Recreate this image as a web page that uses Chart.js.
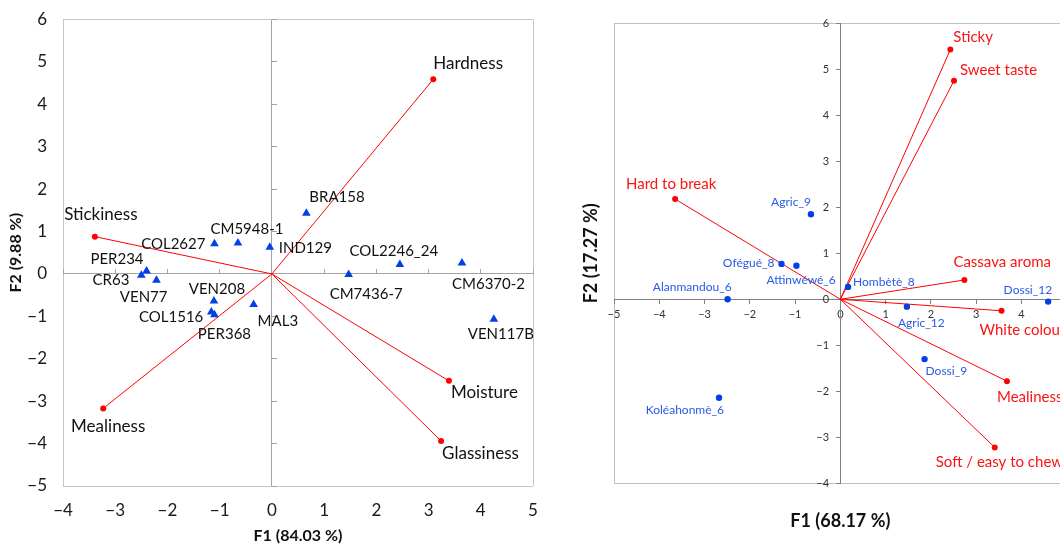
<!DOCTYPE html>
<html>
<head>
<meta charset="utf-8">
<script src="https://cdn.jsdelivr.net/npm/chart.js@4.4.1/dist/chart.umd.min.js"></script>
<style>
html, body { margin:0; padding:0; background:#fff; overflow:hidden; width:1060px; height:545px; }
#left { position:absolute; left:0; top:0; width:560px; height:545px; }
#right { position:absolute; left:580px; top:0; width:500px; height:545px; }
</style>
</head>
<body>
<div id="left"><canvas id="pcaLeft"></canvas></div>
<div id="right"><canvas id="pcaRight"></canvas></div>
<script>
// left biplot : cultivars (triangles) + attribute vectors
const cultivars = ['BRA158','CM5948-1','COL2627','IND129','COL2246_24','CM6370-2','CM7436-7','VEN117B','PER234','CR63','VEN77','VEN208','COL1516','PER368','MAL3'];
const cultivarF1 = [0.66,-0.65,-1.10,-0.04,2.45,3.64,1.47,4.25,-2.40,-2.50,-2.21,-1.11,-1.16,-1.10,-0.35];
const cultivarF2 = [1.43,0.73,0.71,0.63,0.22,0.26,-0.01,-1.07,0.07,-0.03,-0.15,-0.64,-0.90,-0.96,-0.72];
const attributes = ['Hardness','Stickiness','Mealiness','Moisture','Glassiness'];
const attrF1 = [3.09,-3.39,-3.23,3.39,3.24];
const attrF2 = [4.59,0.88,-3.17,-2.52,-3.94];
const leftXTicks = [-4,-3,-2,-1,0,1,2,3,4,5];
const leftYTicks = [-5,-4,-3,-2,-1,0,1,2,3,4,5,6];

// right biplot : samples (dots) + sensory vectors
const samples = ['Agric_9','Ofégué_8','Attinwéwé_6','Hombètè_8','Alanmandou_6','Koléahonmè_6','Agric_12','Dossi_9','Dossi_12'];
const sampleF1 = [-0.65,-1.30,-0.97,0.17,-2.49,-2.68,1.47,1.86,4.59];
const sampleF2 = [1.85,0.77,0.73,0.27,0.00,-2.14,-0.16,-1.30,-0.05];
const sensory = ['Sticky','Sweet taste','Hard to break','Cassava aroma','White colour','Mealiness','Soft / easy to chew'];
const sensF1 = [2.43,2.51,-3.65,2.74,3.56,3.68,3.41];
const sensF2 = [5.43,4.75,2.18,0.42,-0.25,-1.78,-3.22];
const rightXTicks = [-5,-4,-3,-2,-1,0,1,2,3,4,5];
const rightYTicks = [-4,-3,-2,-1,0,1,2,3,4,5,6];

// label placement (dx, dy, align) relative to the mark
const leftPlace = {
  'Hardness':[0,-16,'left'], 'Stickiness':[6,-22,'center'], 'Mealiness':[5,18,'center'],
  'Moisture':[2,12,'left'], 'Glassiness':[1,12,'left'],
  'BRA158':[3,-16,'left'], 'CM5948-1':[9,-14,'center'], 'COL2627':[-9,0,'right'],
  'IND129':[9,1,'left'], 'COL2246_24':[-6,-13,'center'], 'CM6370-2':[-10,21,'left'],
  'CM7436-7':[-19,20,'left'], 'VEN117B':[7,15,'center'], 'PER234':[-3,-12,'right'],
  'CR63':[-12,5,'right'], 'VEN77':[11,17,'right'], 'VEN208':[3,-12,'center'],
  'COL1516':[-8,5,'right'], 'PER368':[10,19,'center'], 'MAL3':[4,17,'left']
};
const rightPlace = {
  'Sticky':[3,-12,'left'], 'Sweet taste':[6,-11,'left'], 'Hard to break':[-4,-15,'center'],
  'Cassava aroma':[-11,-18,'left'], 'White colour':[-22,19,'left'], 'Mealiness':[-10,16,'left'],
  'Soft / easy to chew':[-59,15,'left'],
  'Agric_9':[0,-12,'right'], 'Ofégué_8':[-7,-1,'right'], 'Attinwéwé_6':[-30,14,'left'],
  'Hombètè_8':[5,-5,'left'], 'Alanmandou_6':[4,-12,'right'], 'Koléahonmè_6':[5,12,'right'],
  'Agric_12':[-9,16,'left'], 'Dossi_9':[1,12,'left'], 'Dossi_12':[4,-11,'right']
};

const RED = 'rgb(255,0,0)';
const BLUE = 'rgb(0,64,230)';
const minus = v => String(v).replace('-', '\u2212');
// y labels on a centred axis sit flush against the line, pad them on the right
const minusPadded = v => minus(v) + '    ';

const pointLabels = {
  id: 'pointLabels',
  afterDatasetsDraw(chart, args, opts) {
    const ctx = chart.ctx;
    ctx.save();
    chart.data.datasets.forEach((ds, i) => {
      if (!ds.names) return;
      const meta = chart.getDatasetMeta(i);
      meta.data.forEach((pt, j) => {
        const name = ds.names[j];
        if (!name) return;
        const p = opts.place[name] || [0, -12, 'center'];
        ctx.font = ds.nameFont;
        ctx.fillStyle = ds.nameColor;
        ctx.textAlign = p[2];
        ctx.textBaseline = 'middle';
        ctx.fillText(name, pt.x + p[0], pt.y + p[1]);
      });
    });
    ctx.restore();
  }
};

function vectorSets(names, xs, ys, font, color) {
  return names.map((n, i) => ({
    data: [{x:0, y:0}, {x:xs[i], y:ys[i]}],
    names: [null, n], nameFont: font, nameColor: color,
    showLine: true, borderColor: RED, borderWidth: 1,
    pointRadius: [0, 3], pointBackgroundColor: RED, pointBorderWidth: 0,
    xAxisID: 'x', yAxisID: 'y'
  }));
}

function pts(xs, ys) { return xs.map((x, i) => ({x: x, y: ys[i]})); }

// fixed axis box, no extra label overflow padding
function fixBox(w, h) {
  return s => {
    if (w != null) s.width = w;
    if (h != null) s.height = h;
    s.paddingTop = 0; s.paddingBottom = 0; s.paddingLeft = 0; s.paddingRight = 0;
  };
}

// ---------- left chart ----------
const frameL = '#c6c6c6', zeroL = '#a3a3a3';
function gridLeft(ticks) {
  return c => {
    const v = c.tick.value;
    if (v === ticks[0] || v === ticks[ticks.length - 1]) return frameL;
    if (v === 0) return zeroL;
    return 'rgba(0,0,0,0)';
  };
}
const tickFontL = {family:'Lato', size:17};
const titleFontL = {family:'Lato', size:16, weight:'bold'};

new Chart(document.getElementById('pcaLeft'), {
  type: 'scatter',
  data: {
    datasets: [{
      data: pts(cultivarF1, cultivarF2),
      names: cultivars, nameFont: '15px Lato', nameColor: '#111',
      pointStyle: 'triangle', pointRadius: 5, pointBackgroundColor: BLUE, pointBorderWidth: 0,
      xAxisID: 'x', yAxisID: 'y'
    }].concat(vectorSets(attributes, attrF1, attrF2, '17px Lato', '#111'))
  },
  options: {
    responsive: true, maintainAspectRatio: false, animation: false,
    layout: { autoPadding: false, padding: {top: 19.5, right: 27, left: 0, bottom: 0} },
    plugins: { legend: {display:false}, tooltip: {enabled:false}, pointLabels: {place: leftPlace} },
    scales: {
      x: {
        type: 'linear', min: leftXTicks[0], max: leftXTicks[leftXTicks.length - 1],
        ticks: {stepSize: 1, font: tickFontL, color: '#1a1a1a', padding: 14, callback: minus},
        grid: {color: gridLeft(leftXTicks), drawTicks: false},
        border: {display: false},
        title: {display: true, text: 'F1 (84.03 %)', font: titleFontL, color: '#111', padding: {top: 0, bottom: 0}},
        afterFit: fixBox(null, 59)
      },
      y: {
        type: 'linear', min: leftYTicks[0], max: leftYTicks[leftYTicks.length - 1],
        ticks: {stepSize: 1, font: tickFontL, color: '#1a1a1a', padding: 16, callback: minus},
        grid: {color: gridLeft(leftYTicks), drawTicks: false},
        border: {display: false},
        title: {display: true, text: 'F2 (9.88 %)', font: titleFontL, color: '#111', padding: {top: 6, bottom: 0}},
        afterFit: fixBox(63, null)
      },
      x0: {
        type: 'linear', axis: 'x', position: {y: 0}, min: leftXTicks[0], max: leftXTicks[leftXTicks.length - 1],
        ticks: {display: false, stepSize: 1},
        grid: {drawOnChartArea: false, drawTicks: true, tickLength: -5, tickColor: zeroL},
        border: {display: false},
        afterFit: fixBox(null, null)
      },
      y0: {
        type: 'linear', axis: 'y', position: {x: 0}, min: leftYTicks[0], max: leftYTicks[leftYTicks.length - 1],
        ticks: {display: false, stepSize: 1},
        grid: {drawOnChartArea: false, drawTicks: true, tickLength: -5, tickColor: zeroL},
        border: {display: false},
        afterFit: fixBox(null, null)
      }
    }
  },
  plugins: [pointLabels]
});

// ---------- right chart ----------
const frameR = '#c0c0c0', axisR = '#808080';
function gridRight(ticks) {
  return c => {
    const v = c.tick.value;
    return (v === ticks[0] || v === ticks[ticks.length - 1]) ? frameR : 'rgba(0,0,0,0)';
  };
}
const tickFontR = {family:'Lato', size:11};
const titleFontR = {family:'Lato', size:18, weight:'bold'};

new Chart(document.getElementById('pcaRight'), {
  type: 'scatter',
  data: {
    datasets: [{
      data: pts(sampleF1, sampleF2),
      names: samples, nameFont: '12px Lato', nameColor: 'rgb(40,90,230)',
      pointStyle: 'circle', pointRadius: 3.2, pointBackgroundColor: BLUE, pointBorderWidth: 0,
      xAxisID: 'x', yAxisID: 'y'
    }].concat(vectorSets(sensory, sensF1, sensF2, '15px Lato', 'rgb(250,20,20)'))
  },
  options: {
    responsive: true, maintainAspectRatio: false, animation: false,
    layout: { autoPadding: false, padding: {top: 23.3, right: 13.3, left: 0, bottom: 0} },
    plugins: { legend: {display:false}, tooltip: {enabled:false}, pointLabels: {place: rightPlace} },
    scales: {
      x: {
        type: 'linear', position: {y: 0}, min: rightXTicks[0], max: rightXTicks[rightXTicks.length - 1],
        ticks: {stepSize: 1, font: tickFontR, color: '#333', padding: 5, callback: minus},
        grid: {color: gridRight(rightXTicks), drawTicks: true, tickLength: 4, tickColor: axisR},
        border: {color: axisR},
        afterFit: fixBox(null, null)
      },
      y: {
        type: 'linear', position: {x: 0}, min: rightYTicks[0], max: rightYTicks[rightYTicks.length - 1],
        ticks: {stepSize: 1, font: tickFontR, color: '#333', padding: 5, callback: minusPadded},
        grid: {color: gridRight(rightYTicks), drawTicks: true, tickLength: 4, tickColor: axisR},
        border: {color: axisR},
        afterFit: fixBox(null, null)
      },
      xt: {
        type: 'linear', axis: 'x', position: 'bottom', min: 0, max: 1,
        ticks: {display: false}, grid: {display: false}, border: {display: false},
        title: {display: true, text: 'F1 (68.17 %)', font: titleFontR, color: '#111', padding: {top: 0, bottom: 13}},
        afterFit: fixBox(null, 61.7)
      },
      yt: {
        type: 'linear', axis: 'y', position: 'left', min: 0, max: 1,
        ticks: {display: false}, grid: {display: false}, border: {display: false},
        title: {display: true, text: 'F2 (17.27 %)', font: titleFontR, color: '#111', padding: {top: 0, bottom: 0}},
        afterFit: fixBox(34, null)
      }
    }
  },
  plugins: [pointLabels]
});
</script>
</body>
</html>
